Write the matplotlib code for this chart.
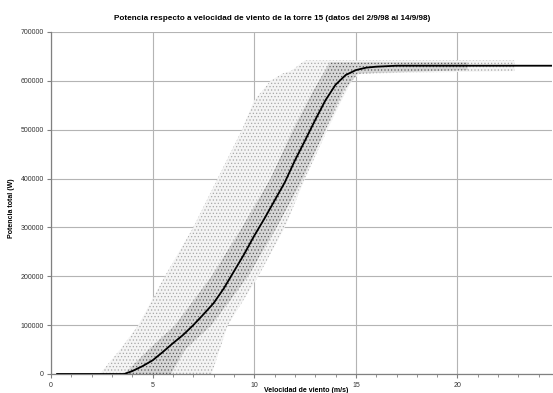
import matplotlib
matplotlib.use("Agg")
import matplotlib.pyplot as plt

plt.rcParams['font.family'] = ['Liberation Sans', 'DejaVu Sans']
plt.rcParams['hatch.linewidth'] = 0.5

# mean power curve
wind = [0.3, 1, 2, 3, 3.6, 4.0, 4.5, 5.0, 5.5, 6.0, 6.5, 7.0, 7.5, 8.0, 8.5,
        9.0, 9.5, 10.0, 10.5, 11.0, 11.5, 12.0, 12.5, 13.0, 13.5, 14.0, 14.5,
        15.0, 15.5, 16, 17, 18, 20, 22, 24.7]
power = [0, 0, 0, 0, 0, 6000, 16000, 28000, 45000, 63000, 80000, 100000,
         122000, 145000, 175000, 210000, 245000, 283000, 318000, 355000,
         392000, 437000, 478000, 520000, 560000, 592000, 612000, 622000,
         627000, 629000, 631000, 631000, 631000, 631000, 631000]

# envelope of the scattered measurements: power level -> wind speed bounds
cloud_p = [0, 50000, 100000, 200000, 300000, 400000, 500000, 560000, 600000,
           615000, 620000, 642000]
cloud_left = [2.4, 3.4, 4.3, 5.6, 7.0, 8.2, 9.4, 10.0, 10.8, 11.4, 11.8, 12.5]
cloud_right = [7.9, 8.3, 8.7, 10.2, 11.5, 12.5, 13.6, 14.3, 14.8, 15.2, 22.8, 22.8]

# denser core of the cloud
core_p = [0, 50000, 100000, 200000, 300000, 400000, 500000, 580000, 615000,
          622000, 638000]
core_left = [3.6, 4.8, 6.1, 7.9, 9.4, 10.8, 11.9, 12.9, 13.4, 13.5, 13.7]
core_right = [5.9, 6.6, 7.9, 9.7, 11.1, 12.4, 13.5, 14.4, 15.1, 20.5, 20.5]

fig = plt.figure(figsize=(5.53, 3.93), dpi=100)
ax = fig.add_axes([51 / 553, 19 / 393, 501 / 553, 342 / 393])

ax.fill_betweenx(cloud_p, cloud_left, cloud_right, facecolor='#f4f4f4',
                 edgecolor='#a8a8a8', hatch='.....', linewidth=0, zorder=1)
ax.fill_betweenx(core_p, core_left, core_right, facecolor='#d6d6d6',
                 edgecolor='#5a5a5a', hatch='.....', linewidth=0, zorder=2)

ax.plot(wind, power, color='black', lw=1.3, zorder=4)

ax.set_xlim(0, 24.65)
ax.set_ylim(0, 700000)
ax.set_xticks([0, 5, 10, 15, 20])
ax.set_xticks(range(0, 25), minor=True)
ax.set_yticks(range(0, 700001, 100000))
ax.grid(True, color='#b4b4b4', lw=0.8, zorder=0)
ax.set_axisbelow(True)

for s in ['top', 'right']:
    ax.spines[s].set_visible(False)
for s in ['left', 'bottom']:
    ax.spines[s].set_color('#808080')
    ax.spines[s].set_linewidth(0.9)

ax.tick_params(axis='both', which='major', labelsize=5, colors='#808080',
               labelcolor='#333333', length=3, width=0.8, pad=2)
ax.tick_params(axis='x', which='minor', length=2, width=0.6, colors='#808080')
ax.tick_params(axis='x', which='major', pad=3)

ax.set_title('Potencia respecto a velocidad de viento de la torre 15 (datos del 2/9/98 al 14/9/98)',
             fontsize=5.9, fontweight='bold', x=0.441, pad=9)
ax.set_ylabel('Potencia total (W)', fontsize=5, fontweight='bold')
ax.yaxis.set_label_coords(-0.072, 0.485)
ax.set_xlabel('Velocidad de viento (m/s)', fontsize=5, fontweight='bold')
ax.xaxis.set_label_coords(0.51, -0.038)

fig.savefig('out.png', dpi=100)
